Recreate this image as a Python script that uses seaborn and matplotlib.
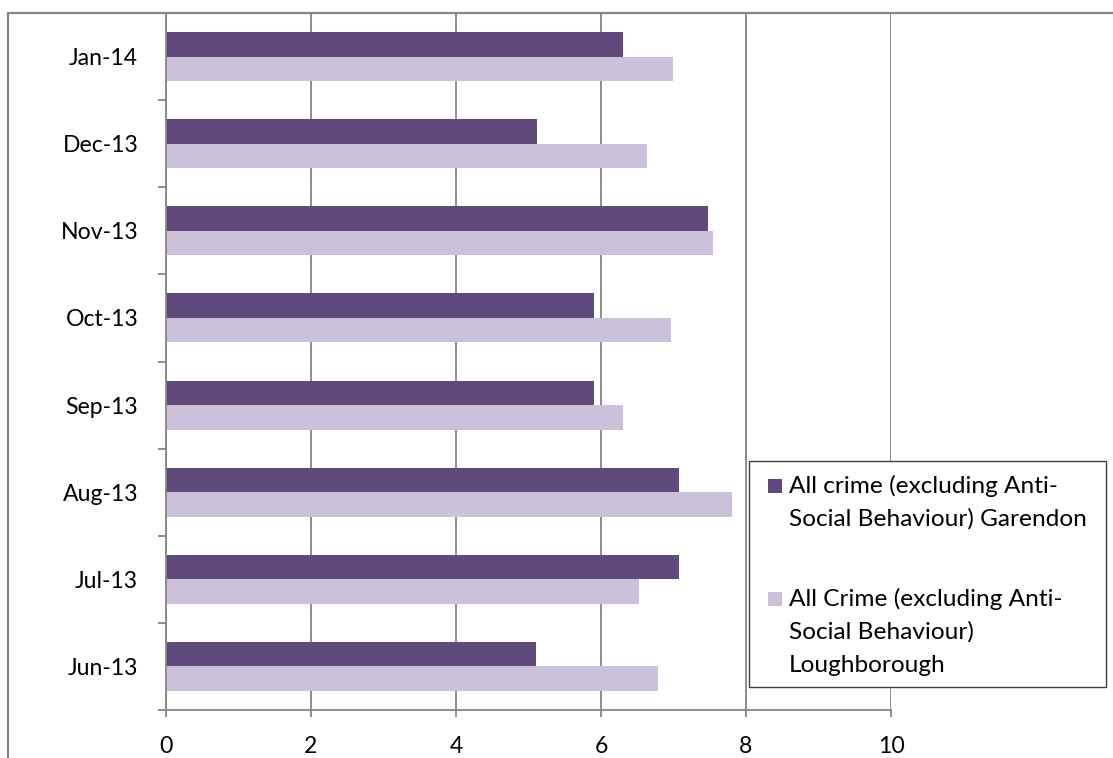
import matplotlib
matplotlib.use("Agg")
import matplotlib.pyplot as plt
from matplotlib.patches import Rectangle
from matplotlib.lines import Line2D
import seaborn as sns
import pandas as pd
import numpy as np

# Monthly crime rates, newest month first (top of the chart)
months = ["Jan-14", "Dec-13", "Nov-13", "Oct-13", "Sep-13", "Aug-13", "Jul-13", "Jun-13"]
garendon = [6.30, 5.12, 7.48, 5.90, 5.90, 7.08, 7.08, 5.11]
loughborough = [6.99, 6.64, 7.55, 6.96, 6.31, 7.81, 6.53, 6.79]

series_names = [
    "All crime (excluding Anti-\nSocial Behaviour) Garendon",
    "All Crime (excluding Anti-\nSocial Behaviour)\nLoughborough",
]
series_colors = ["#604A7B", "#CCC1DA"]
x_ticks = [0, 2, 4, 6, 8, 10]

df = pd.DataFrame({
    "month": months * 2,
    "value": garendon + loughborough,
    "series": [series_names[0]] * len(months) + [series_names[1]] * len(months),
})

sns.set_theme(style="white")
plt.rcParams["font.family"] = ["Lato", "DejaVu Sans"]

W, H = 1113, 758
fig = plt.figure(figsize=(W / 100, H / 100), dpi=100)
ax = fig.add_axes([166 / W, 1 - 710 / H, (891 - 166) / W, (710 - 13) / H])

grid_gray = "#868686"

sns.barplot(
    data=df, x="value", y="month", hue="series", order=months,
    hue_order=series_names, palette=dict(zip(series_names, series_colors)),
    orient="h", width=0.5625, gap=0, saturation=1, ax=ax, legend=False,
    edgecolor="none", linewidth=0,
)

ax.set_xlim(0, 10)
ax.set_ylim(7.5, -0.5)
ax.set_xticks(x_ticks)
ax.set_xticklabels([str(t) for t in x_ticks])
ax.set_xlabel("")
ax.set_ylabel("")

# vertical gridlines
ax.grid(axis="x", color=grid_gray, linewidth=1.3)
ax.grid(axis="y", visible=False)
ax.set_axisbelow(True)

for side in ["top", "right"]:
    ax.spines[side].set_visible(False)
for side in ["left", "bottom"]:
    ax.spines[side].set_color(grid_gray)
    ax.spines[side].set_linewidth(1.3)

# y axis: labels at category centres, tick marks at category boundaries
ax.set_yticks(np.arange(len(months)))
ax.set_yticklabels(months)
ax.set_yticks(np.arange(len(months) + 1) - 0.5, minor=True)
ax.tick_params(axis="y", which="major", length=0, pad=20, labelsize=16.6, labelcolor="black")
ax.tick_params(axis="y", which="minor", left=True, length=5.8, width=1.3, color=grid_gray)
ax.tick_params(axis="x", which="major", bottom=True, length=5, width=1.3, color=grid_gray,
               pad=14, labelsize=16.6, labelcolor="black")

# outer chart border
fig.add_artist(Line2D([8 / W, 8 / W], [0, 1 - 13 / H], transform=fig.transFigure,
                      color=grid_gray, linewidth=1.6))
fig.add_artist(Line2D([8 / W, 1], [1 - 13 / H, 1 - 13 / H], transform=fig.transFigure,
                      color=grid_gray, linewidth=1.6))

# legend box with one square swatch per series, aligned to the first text line
fig.add_artist(Rectangle((749 / W, 1 - 687 / H), (1106 - 749) / W, (687 - 461) / H,
                         transform=fig.transFigure, facecolor="white",
                         edgecolor="#404040", linewidth=1.0, zorder=5))
entry_baselines = [493, 606]
line_step = 33
for name, color, base in zip(series_names, series_colors, entry_baselines):
    fig.add_artist(Rectangle((768 / W, 1 - base / H), 14 / W, 14.5 / H,
                             transform=fig.transFigure, facecolor=color,
                             edgecolor="none", zorder=6))
    for i, line in enumerate(name.split("\n")):
        fig.text(789 / W, 1 - (base + i * line_step) / H, line, fontsize=17.6,
                 va="baseline", ha="left", color="black", zorder=7)

fig.savefig("out.png", dpi=100, facecolor="white")
